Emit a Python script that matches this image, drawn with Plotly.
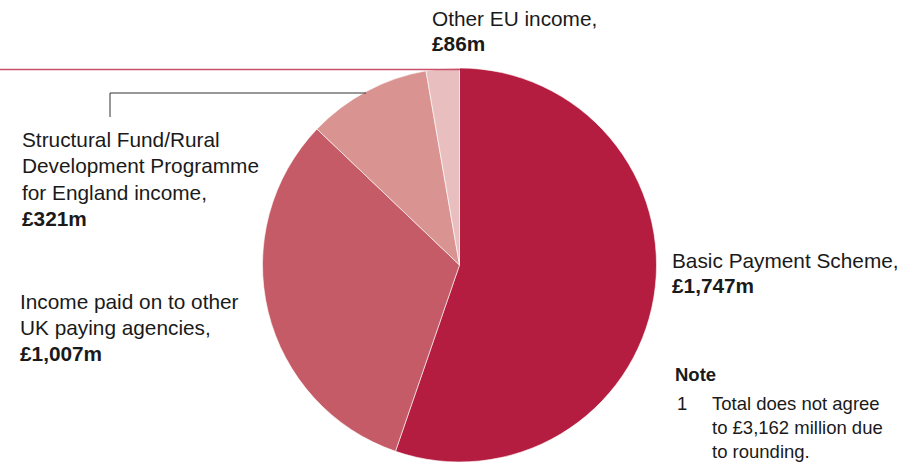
import plotly.graph_objects as go

# EU income streams, £ million
categories = [
    "Basic Payment Scheme",
    "Income paid on to other UK paying agencies",
    "Structural Fund/Rural Development Programme for England income",
    "Other EU income",
]
values = [1747, 1007, 321, 86]
colors = ["#b41d3f", "#c55b66", "#d99492", "#e8bfbe"]

# label lines for each slice (the value line is appended from `values`)
label_lines = [
    ["Basic Payment Scheme,"],
    ["Income paid on to other", "UK paying agencies,"],
    ["Structural Fund/Rural", "Development Programme", "for England income,"],
    ["Other EU income,"],
]
note_title = "Note"
note_number = "1"
note_lines = ["Total does not agree", "to £3,162 million due", "to rounding."]

W, H = 914, 462
FONT = "Liberation Sans"
TXT = "#1a1a1a"
PAD = 2  # annotation box padding


def px(x, y):
    return (x - PAD) / W, 1 - y / H


fig = go.Figure(
    go.Pie(
        labels=categories,
        values=values,
        sort=False,
        direction="clockwise",
        rotation=0,
        marker=dict(colors=colors, line=dict(color="white", width=0.6)),
        textinfo="none",
        hoverinfo="label+value",
        showlegend=False,
        domain=dict(x=[(459.5 - 197) / W, (459.5 + 197) / W], y=[0, 394 / H]),
    )
)

annotations = []


def add_block(x, y0, lines, value, step):
    for i, line in enumerate(lines):
        ax, ay = px(x, y0 + i * step)
        annotations.append(dict(x=ax, y=ay, text=line))
    ax, ay = px(x, y0 + len(lines) * step)
    annotations.append(dict(x=ax, y=ay, text=f"<b>£{value:,}m</b>"))


# label anchors (left x, centre y of first line), line step
add_block(672, 260, label_lines[0], values[0], 25.5)
add_block(20, 301, label_lines[1], values[1], 26)
add_block(22, 140, label_lines[2], values[2], 26)
add_block(432, 18, label_lines[3], values[3], 25.5)

# note block
x, y = px(675, 374)
annotations.append(dict(x=x, y=y, text=f"<b>{note_title}</b>", font=dict(size=18.5)))
x, y = px(677, 403)
annotations.append(dict(x=x, y=y, text=note_number, font=dict(size=18.5)))
for i, line in enumerate(note_lines):
    x, y = px(712, 403 + i * 24)
    annotations.append(dict(x=x, y=y, text=line, font=dict(size=18.5)))

for a in annotations:
    a.update(xref="paper", yref="paper", xanchor="left", yanchor="middle", showarrow=False)
    f = dict(family=FONT, size=20.8, color=TXT)
    f.update(a.get("font", {}))
    a["font"] = f

shapes = [
    # rule across the top-left, meeting the top of the pie
    dict(type="line", xref="paper", yref="paper",
         x0=0, x1=460 / W, y0=1 - 69.5 / H, y1=1 - 69.5 / H,
         line=dict(color="#c9506a", width=1.5)),
    # leader line for the Structural Fund slice
    dict(type="path", xref="paper", yref="paper",
         path=f"M {110 / W},{1 - 117 / H} L {110 / W},{1 - 93 / H} L {366 / W},{1 - 93 / H}",
         line=dict(color="#333333", width=1)),
]

fig.update_layout(
    width=W,
    height=H,
    margin=dict(l=0, r=0, t=0, b=0),
    paper_bgcolor="white",
    plot_bgcolor="white",
    annotations=annotations,
    shapes=shapes,
)

fig.write_html("out.html")
